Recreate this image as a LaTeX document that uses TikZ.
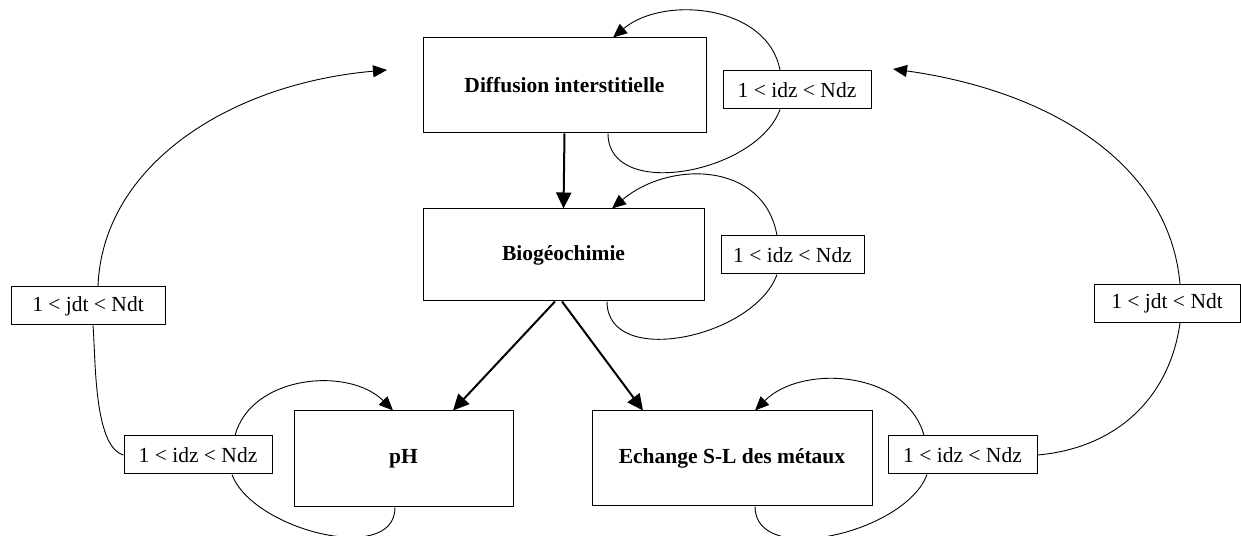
\documentclass[tikz,border=0pt]{standalone}
\usepackage{fontspec}
\setmainfont{Liberation Serif}
\usetikzlibrary{arrows.meta}

\begin{document}
\begin{tikzpicture}[
    x=1pt, y=1pt,
    box/.style={draw, line width=1pt, inner sep=0pt, minimum height=95pt, align=center, font=\fontsize{21.5}{25}\selectfont\bfseries},
    loopbox/.style={draw, line width=1pt, inner sep=0pt, minimum width=148pt, minimum height=38pt, fill=white, font=\fontsize{21.5}{25}\selectfont},
    arrow/.style={-{Triangle[length=16pt,width=15pt]}, line width=2pt},
    looparrow/.style={-{Triangle[length=14pt,width=12pt]}, line width=0.9pt},
    loopline/.style={line width=0.9pt}
]
    \useasboundingbox (0,0) rectangle (1241,535);

    % Modules
    \node[box, minimum width=283pt] (diff) at (564.5,449.5) {Diffusion interstitielle};
    \node[box, minimum width=281pt, minimum height=92pt] (bio) at (563.5,280) {Biogéochimie};
    \node[box, minimum width=219pt, minimum height=96pt] (ph) at (403.5,76) {pH};
    \node[box, minimum width=280pt] (ech) at (732,76.5) {Echange S-L des métaux};

    % Space loops
    \node[loopbox] (zdiff) at (797,445) {1 < idz < Ndz};
    \node[loopbox, minimum width=143pt] (zbio) at (792.5,280) {1 < idz < Ndz};
    \node[loopbox] (zph) at (198,80) {1 < idz < Ndz};
    \node[loopbox, minimum width=149pt] (zech) at (962.5,80) {1 < idz < Ndz};

    % Time loops
    \node[loopbox, minimum width=154pt] (tleft) at (88,229) {1 < jdt < Ndt};
    \node[loopbox, minimum width=146pt] (tright) at (1167,231.5) {1 < jdt < Ndt};
    \coordinate (tleftend) at (387,465);
    \coordinate (trightend) at (893,466);

    % Arrows
    \draw[arrow] (diff.south) -- (bio.north);
    \draw[arrow] ([xshift=-8.5pt]bio.south) -- ([xshift=49.5pt]ph.north);
    \draw[arrow] ([xshift=-1.5pt]bio.south) -- ([xshift=-89pt]ech.north);

    % Loops over idz
    \draw[loopline] ([xshift=43.5pt]diff.south) to[out=270, in=250] ([xshift=-17pt]zdiff.south);
    \draw[looparrow] ([xshift=-17pt]zdiff.north) to[out=100, in=40] ([xshift=48.5pt]diff.north);
    \draw[loopline] ([xshift=43.5pt]bio.south) to[out=270, in=250] ([xshift=-15.5pt]zbio.south);
    \draw[looparrow] ([xshift=-15.5pt]zbio.north) to[out=100, in=40, looseness=1.15] ([xshift=48.5pt]bio.north);
    \draw[loopline] ([xshift=-8.5pt]ph.south) to[out=270, in=290, looseness=0.9] ([xshift=34pt]zph.south);
    \draw[looparrow] ([xshift=37pt]zph.north) to[out=75, in=135] ([xshift=-10.5pt]ph.north);
    \draw[loopline] ([xshift=23pt]ech.south) to[out=270, in=250, looseness=0.9] ([xshift=-35.5pt]zech.south);
    \draw[looparrow] ([xshift=-38.5pt]zech.north) to[out=105, in=45] ([xshift=23pt]ech.north);

    % Loops over jdt
    \draw[loopline] (zph.west) to[out=165, in=275, looseness=0.6] ([xshift=5pt]tleft.south);
    \draw[looparrow] ([xshift=10pt]tleft.north) to[out=88, in=185, out distance=120pt, in distance=160pt] (tleftend);
    \draw[loopline] (zech.east) to[out=5, in=262, out distance=80pt, in distance=75pt] ([xshift=13pt]tright.south);
    \draw[looparrow] ([xshift=13pt]tright.north) to[out=95, in=352, out distance=120pt, in distance=160pt] (trightend);
\end{tikzpicture}
\end{document}
